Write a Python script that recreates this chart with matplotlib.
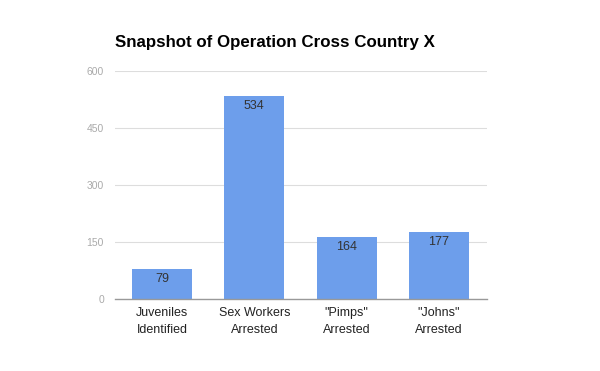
import matplotlib
matplotlib.use("Agg")
import matplotlib.pyplot as plt

categories = ["Juveniles\nIdentified", "Sex Workers\nArrested", "\"Pimps\"\nArrested", "\"Johns\"\nArrested"]
values = [79, 534, 164, 177]
yticks = [0, 150, 300, 450, 600]

plt.rcParams['font.family'] = ['Liberation Sans', 'DejaVu Sans']

fig = plt.figure(figsize=(6, 3.71), dpi=100)
ax = fig.add_axes([115/600, 1-299/371, (487-115)/600, (299-71)/371])

x = range(len(values))
bars = ax.bar(x, values, width=0.65, color="#6d9eeb", zorder=3)
for xi, v in zip(x, values):
    ax.annotate(str(v), (xi, v), xytext=(0, -3), textcoords="offset points",
                ha="center", va="top", fontsize=9, color="#333333", zorder=4)

ax.set_xlim(-0.51, 3.52)
ax.set_ylim(0, 600)
ax.set_yticks(yticks)
ax.set_yticklabels([str(t) for t in yticks], color="#aaaaaa", fontsize=7.5)
ax.set_xticks(list(x))
ax.set_xticklabels(categories, fontsize=9, color="#222222", linespacing=1.55)
ax.tick_params(axis="both", length=0)
ax.tick_params(axis="y", pad=8)
ax.tick_params(axis="x", pad=6)
ax.grid(axis="y", color="#dddddd", linewidth=0.8, zorder=0)
for s in ["top", "right", "left"]:
    ax.spines[s].set_visible(False)
ax.spines["bottom"].set_color("#999999")
ax.spines["bottom"].set_linewidth(1)
ax.spines["bottom"].set_zorder(5)

fig.text(115/600, 1-43/371, "Snapshot of Operation Cross Country X", fontsize=12.2,
         fontweight="bold", color="#000000", ha="left", va="center")

fig.savefig("out.png", dpi=100)
